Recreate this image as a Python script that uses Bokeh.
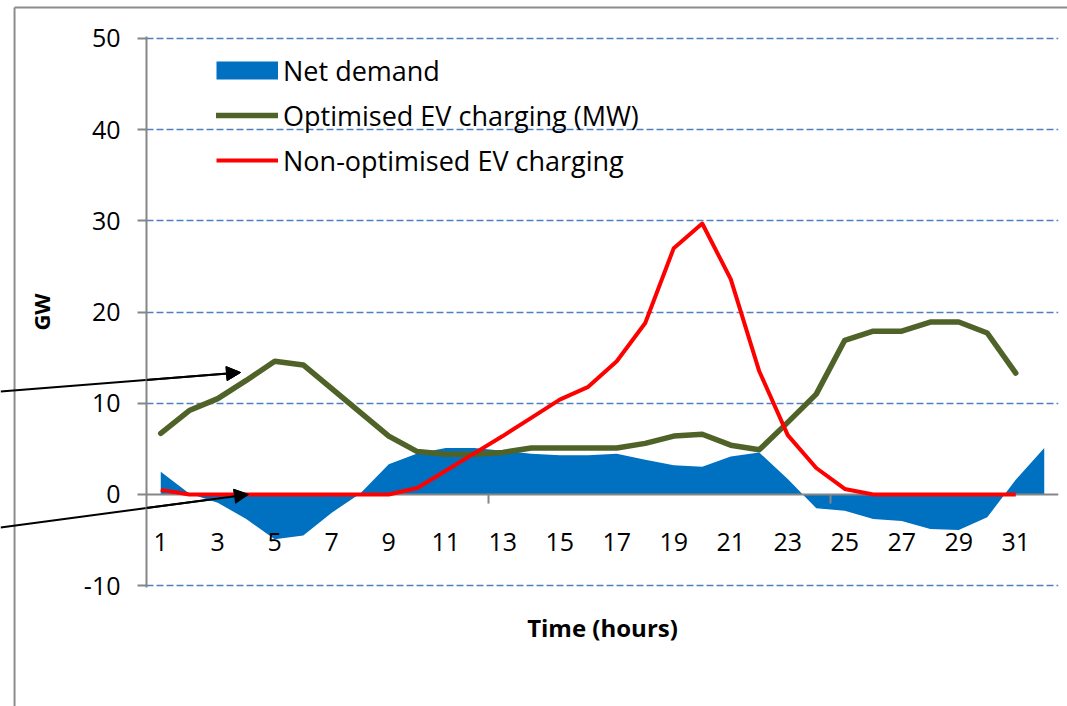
from bokeh.plotting import figure
from bokeh.layouts import column
from bokeh.models import (Range1d, FixedTicker, Arrow, NormalHead, Legend, LegendItem,
                          ColumnDataSource, PrintfTickFormatter)
from bokeh.embed import file_html
from bokeh.resources import INLINE

# ---------------- data ----------------
hours = list(range(1, 33))
net_demand = [2.5, 0.1, -0.9, -2.7, -4.9, -4.5, -2.0, 0.1, 3.3, 4.5, 5.1, 5.1, 4.8, 4.45,
              4.3, 4.3, 4.45, 3.8, 3.2, 3.05, 4.15, 4.6, 1.7, -1.5, -1.8, -2.7, -2.9, -3.8,
              -3.9, -2.5, 1.6, 5.1]
optimised = [6.7, 9.2, 10.5, 12.5, 14.6, 14.2, 11.6, 9.0, 6.4, 4.7, 4.4, 4.4, 4.6, 5.1,
             5.1, 5.1, 5.1, 5.6, 6.4, 6.6, 5.4, 4.9, 7.9, 11.0, 16.9, 17.9, 17.9, 18.9,
             18.9, 17.7, 13.3]
non_optimised = [0.5, 0, 0, 0, 0, 0, 0, 0, 0, 0.7, 2.6, 4.5, 6.4, 8.4, 10.4, 11.8, 14.6,
                 18.8, 27.0, 29.7, 23.6, 13.5, 6.5, 2.9, 0.6, 0, 0, 0, 0, 0, 0]
x_tick_labels = [1, 3, 5, 7, 9, 11, 13, 15, 17, 19, 21, 23, 25, 27, 29, 31]
y_ticks = [-10, 0, 10, 20, 30, 40, 50]
x_boundary_ticks = [12.5, 24.5]
series_labels = ["Net demand", "Optimised EV charging (MW)", "Non-optimised EV charging"]
# annotation arrows (data coords): start -> end
arrows = [(-4.62, 11.29, 3.80, 13.37), (-4.62, -3.62, 4.08, 0.0)]
# outer chart frame edges (data coords), partially visible
chart_border = [(-4.13, 53.38, 33.1, 53.38), (-4.13, 53.38, -4.13, -24.2)]

FONT = "Open Sans"
GRAY = "#868686"

W, H = 1067, 706
BL, BR, BT, BB = 146, 9, 36, 119
X0, X1, Y0, Y1 = 0.5, 32.5, -10.2, 50.2
KX = (W - BL - BR) / (X1 - X0)   # px per data unit
KY = (H - BT - BB) / (Y1 - Y0)

# ---------- back layer: same data coordinates over the whole canvas ----------
bg = figure(width=W, height=H, output_backend="svg", toolbar_location=None,
            x_range=Range1d(X0 - BL / KX, X1 + BR / KX),
            y_range=Range1d(Y0 - BB / KY, Y1 + BT / KY),
            x_axis_location=None, y_axis_location=None,
            min_border_left=0, min_border_right=0, min_border_top=0, min_border_bottom=0)
bg.frame_align = False
bg.outline_line_color = None
bg.xgrid.visible = False
bg.ygrid.visible = False
bg.background_fill_color = "white"
bg.border_fill_color = "white"
for (bx0, by0, bx1, by1) in chart_border:
    bg.add_layout(Arrow(end=None, x_start=bx0, y_start=by0, x_end=bx1, y_end=by1,
                        line_color="#8C8C8C", line_width=2))
for (xs, ys, xe, ye) in arrows:
    bg.add_layout(Arrow(end=NormalHead(size=14, fill_color="black", line_color="black"),
                        x_start=xs, y_start=ys, x_end=xe, y_end=ye,
                        line_color="black", line_width=2))

# ---------- main chart (transparent, laid over the back layer) ----------
p = figure(width=W, height=H, output_backend="svg", toolbar_location=None,
           x_range=Range1d(X0, X1), y_range=Range1d(Y0, Y1),
           min_border_left=BL, min_border_right=BR, min_border_top=BT, min_border_bottom=BB)
p.frame_align = False
p.outline_line_color = None
p.background_fill_alpha = 0
p.border_fill_alpha = 0
p.margin = (-H, 0, 0, 0)

# grid
p.xgrid.visible = False
p.ygrid.ticker = FixedTicker(ticks=[t for t in y_ticks if t != 0])
p.ygrid.grid_line_color = "#4F81BD"
p.ygrid.grid_line_width = 1.5
p.ygrid.grid_line_dash = "7 3"

# y axis
ya = p.yaxis[0]
ya.ticker = FixedTicker(ticks=y_ticks)
ya.formatter = PrintfTickFormatter(format="%d")
ya.axis_line_color = GRAY
ya.axis_line_width = 2
ya.major_tick_line_color = GRAY
ya.major_tick_line_width = 2
ya.major_tick_out = 9
ya.major_tick_in = 0
ya.minor_tick_line_color = None
ya.major_label_text_font = FONT
ya.major_label_text_font_size = "25px"
ya.major_label_text_color = "black"
ya.major_label_standoff = 17
ya.axis_label = "GW"
ya.axis_label_text_font = FONT
ya.axis_label_text_font_size = "22px"
ya.axis_label_text_font_style = "bold"
ya.axis_label_text_color = "black"
ya.axis_label_standoff = 25

# x axis (labels drawn up next to zero line)
xa = p.xaxis[0]
xa.ticker = FixedTicker(ticks=x_tick_labels)
xa.axis_line_color = None
xa.major_tick_line_color = None
xa.minor_tick_line_color = None
xa.major_tick_out = 0
xa.major_tick_in = 0
xa.major_label_text_font = FONT
xa.major_label_text_font_size = "25px"
xa.major_label_text_color = "black"
xa.major_label_standoff = -55
xa.axis_label = "Time (hours)"
xa.axis_label_text_font = FONT
xa.axis_label_text_font_size = "24px"
xa.axis_label_text_font_style = "bold"
xa.axis_label_text_color = "black"
xa.axis_label_standoff = 57

src = ColumnDataSource(dict(x=hours, net=net_demand))
area = p.varea(x="x", y1=0, y2="net", source=src, fill_color="#0070C0")

# zero axis line (under the series lines) and category tick marks
p.hspan(y=[0], line_color=GRAY, line_width=2)
p.segment(x0=x_boundary_ticks, y0=[0] * len(x_boundary_ticks), x1=x_boundary_ticks,
          y1=[-1.0] * len(x_boundary_ticks), line_color=GRAY, line_width=2)

g = p.line(hours[:len(optimised)], optimised, line_color="#4F6228", line_width=5.5,
           line_cap="round", line_join="round")
r = p.line(hours[:len(non_optimised)], non_optimised, line_color="#FF0000", line_width=4,
           line_join="round")

# legend proxy for the area (rectangle swatch)
proxy = p.line(x=[float("nan")], y=[float("nan")], line_color="#0070C0", line_width=18)

legend = Legend(items=[LegendItem(label=series_labels[0], renderers=[proxy]),
                       LegendItem(label=series_labels[1], renderers=[g]),
                       LegendItem(label=series_labels[2], renderers=[r])],
                location=(70, 408), orientation="vertical",
                glyph_width=62, glyph_height=38, label_height=38, spacing=7,
                padding=0, margin=0, label_standoff=5,
                label_text_font=FONT, label_text_font_size="27px",
                label_text_color="black",
                border_line_color=None, background_fill_alpha=0)
p.add_layout(legend)

# arrows again on top of the series (inside the plot area)
for (xs, ys, xe, ye) in arrows:
    p.add_layout(Arrow(end=NormalHead(size=14, fill_color="black", line_color="black"),
                       x_start=xs, y_start=ys, x_end=xe, y_end=ye,
                       line_color="black", line_width=2))

layout = column(bg, p, spacing=0)
open("out.html", "w").write(file_html(layout, INLINE))
